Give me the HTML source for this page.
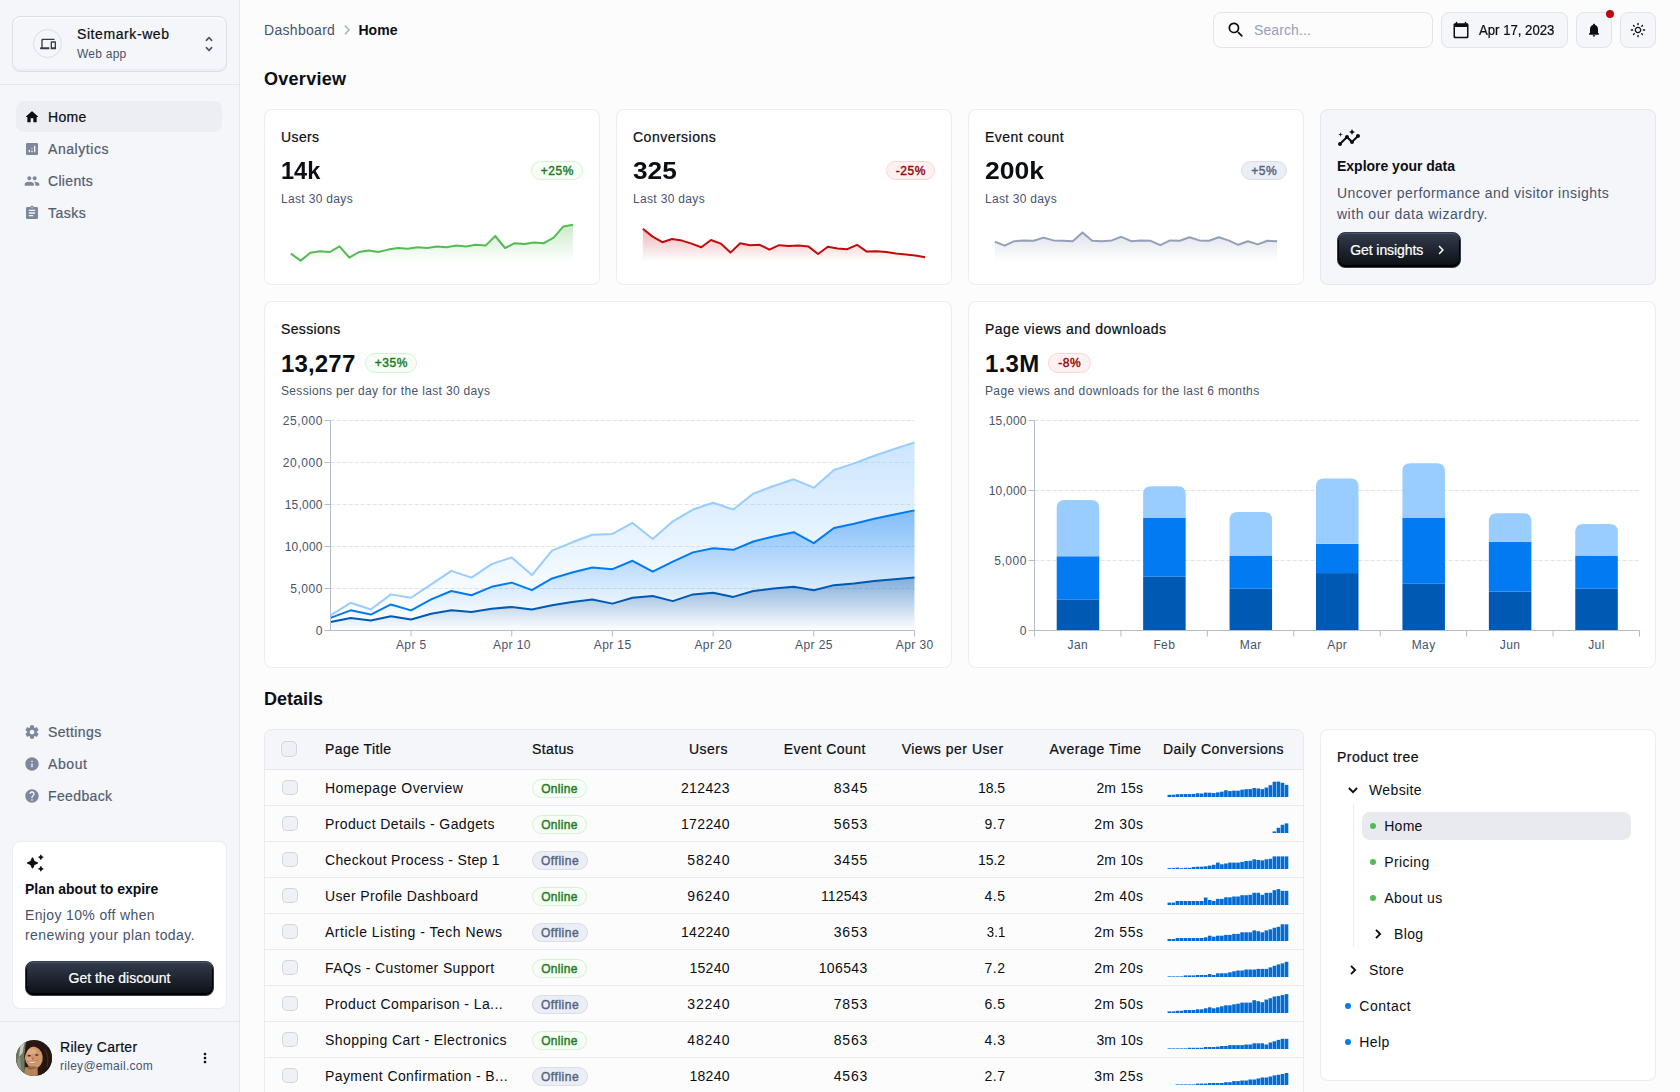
<!DOCTYPE html>
<html lang="en"><head><meta charset="utf-8"><title>Dashboard</title><style>
html,body{margin:0;padding:0;}
body{width:1680px;height:1092px;overflow:hidden;background:#FCFCFC;font-family:"Liberation Sans",sans-serif;position:relative;}
#app{position:absolute;left:0;top:0;width:1680px;height:1092px;overflow:hidden;}
.b{position:absolute;box-sizing:content-box;}
.ic{position:absolute;display:block;overflow:visible;}
.t{position:absolute;white-space:nowrap;display:block;}
</style></head>
<body><div id="app">
<!-- sidebar --><div class="b " style="left:0px;top:0px;width:239px;height:1092px;background:#F5F6FA;border-right:1px solid rgba(194,201,214,0.33);"></div><div class="b " style="left:12px;top:16px;width:213px;height:54px;border:1px solid #DADEE7;border-radius:8px;background:#F5F6FA;box-shadow:inset 0 1px 0 1px rgba(255,255,255,.6),inset 0 -1px 0 1px rgba(224,228,238,.5);"></div><div class="b " style="left:33px;top:29px;width:27px;height:27px;border:1px solid #DADEE7;border-radius:50%;background:#F5F6FA;"></div><svg class="ic" style="left:40px;top:36px;" width="16" height="16" viewBox="0 0 24 24" fill="#333C4D"><path d="M4 7c0-.55.45-1 1-1h16c.55 0 1-.45 1-1s-.45-1-1-1H4c-1.1 0-2 .9-2 2v11h-.5c-.83 0-1.5.67-1.5 1.5S.67 20 1.5 20H14v-3H4zm19 1h-6c-.55 0-1 .45-1 1v10c0 .55.45 1 1 1h6c.55 0 1-.45 1-1V9c0-.55-.45-1-1-1m-1 9h-4v-7h4z"/></svg><span class="t " style="top:27px;font-size:14px;line-height:14px;color:#0B0E14;letter-spacing:0.584px;-webkit-text-stroke:0.22px;left:77px;">Sitemark-web</span><span class="t " style="top:48px;font-size:12px;line-height:12px;color:#47536B;letter-spacing:0.241px;left:77px;">Web app</span><svg class="ic" style="left:199px;top:34px;" width="20" height="20" viewBox="0 0 24 24" fill="#47536B"><path d="M12 5.83 14.46 8.29c.39.39 1.02.39 1.41 0 .39-.39.39-1.02 0-1.41L12.7 3.7a.996.996 0 0 0-1.41 0L8.12 6.88c-.39.39-.39 1.02 0 1.41.39.39 1.02.39 1.41 0zm0 12.34-2.46-2.46a.996.996 0 0 0-1.41 0c-.39.39-.39 1.02 0 1.41l3.17 3.18c.39.39 1.02.39 1.41 0l3.17-3.17c.39-.39.39-1.02 0-1.41a.996.996 0 0 0-1.41 0z"/></svg><div class="b " style="left:0px;top:84px;width:239px;height:1px;background:rgba(194,201,214,0.33);"></div><div class="b " style="left:16px;top:101px;width:206px;height:31px;background:rgba(194,201,214,.17);border-radius:8px;"></div><svg class="ic" style="left:24px;top:109px;" width="16" height="16" viewBox="0 0 24 24" fill="#0B0E14"><path d="M10 19v-5h4v5c0 .55.45 1 1 1h3c.55 0 1-.45 1-1v-7h1.7c.46 0 .68-.57.33-.87L12.67 3.6c-.38-.34-.96-.34-1.34 0l-8.36 7.53c-.34.3-.13.87.33.87H5v7c0 .55.45 1 1 1h3c.55 0 1-.45 1-1"/></svg><span class="t " style="top:110px;font-size:14px;line-height:14px;color:#0B0E14;letter-spacing:0.335px;-webkit-text-stroke:0.22px;left:48px;">Home</span><svg class="ic" style="left:24px;top:141px;" width="16" height="16" viewBox="0 0 24 24" fill="#7D879D"><path d="M19 3H5c-1.1 0-2 .9-2 2v14c0 1.1.9 2 2 2h14c1.1 0 2-.9 2-2V5c0-1.1-.9-2-2-2M8 17c-.55 0-1-.45-1-1v-2c0-.55.45-1 1-1s1 .45 1 1v2c0 .55-.45 1-1 1m4 0c-.55 0-1-.45-1-1v-1c0-.55.45-1 1-1s1 .45 1 1v1c0 .55-.45 1-1 1m0-5c-.55 0-1-.45-1-1s.45-1 1-1 1 .45 1 1-.45 1-1 1m4 5c-.55 0-1-.45-1-1V8c0-.55.45-1 1-1s1 .45 1 1v8c0 .55-.45 1-1 1"/></svg><span class="t " style="top:142px;font-size:14px;line-height:14px;color:#545D70;letter-spacing:0.563px;-webkit-text-stroke:0.22px;left:48px;">Analytics</span><svg class="ic" style="left:24px;top:173px;" width="16" height="16" viewBox="0 0 24 24" fill="#7D879D"><path d="M16 11c1.66 0 2.99-1.34 2.99-3S17.66 5 16 5s-3 1.34-3 3 1.34 3 3 3m-8 0c1.66 0 2.99-1.34 2.99-3S9.66 5 8 5 5 6.340 5 8s1.34 3 3 3m0 2c-2.33 0-7 1.17-7 3.5V18c0 .55.45 1 1 1h12c.55 0 1-.45 1-1v-1.5c0-2.33-4.67-3.5-7-3.5m8 0c-.29 0-.62.02-.97.05.02.01.03.03.04.04 1.14.83 1.93 1.94 1.93 3.41V18c0 .35-.07.69-.18 1H22c.55 0 1-.45 1-1v-1.5c0-2.33-4.67-3.5-7-3.5"/></svg><span class="t " style="top:174px;font-size:14px;line-height:14px;color:#545D70;letter-spacing:0.315px;-webkit-text-stroke:0.22px;left:48px;">Clients</span><svg class="ic" style="left:24px;top:205px;" width="16" height="16" viewBox="0 0 24 24" fill="#7D879D"><path d="M19 3h-4.18C14.4 1.84 13.3 1 12 1s-2.4.84-2.82 2H5c-1.1 0-2 .9-2 2v14c0 1.1.9 2 2 2h14c1.1 0 2-.9 2-2V5c0-1.1-.9-2-2-2m-7 0c.55 0 1 .45 1 1s-.45 1-1 1-1-.45-1-1 .45-1 1-1m1 14H8c-.55 0-1-.45-1-1s.45-1 1-1h5c.55 0 1 .45 1 1s-.45 1-1 1m3-4H8c-.55 0-1-.45-1-1s.45-1 1-1h8c.55 0 1 .45 1 1s-.45 1-1 1m0-4H8c-.55 0-1-.45-1-1s.45-1 1-1h8c.55 0 1 .45 1 1s-.45 1-1 1"/></svg><span class="t " style="top:206px;font-size:14px;line-height:14px;color:#545D70;letter-spacing:0.481px;-webkit-text-stroke:0.22px;left:48px;">Tasks</span><svg class="ic" style="left:24px;top:724px;" width="16" height="16" viewBox="0 0 24 24" fill="#7D879D"><path d="M19.5 12c0-.23-.01-.45-.03-.68l1.86-1.41c.4-.3.51-.86.26-1.3l-1.87-3.23c-.25-.44-.79-.62-1.25-.42l-2.15.91c-.37-.26-.76-.49-1.17-.68l-.29-2.31c-.06-.5-.49-.88-.99-.88h-3.73c-.51 0-.94.38-1 .88l-.29 2.31c-.41.19-.8.42-1.17.68l-2.15-.91c-.46-.2-1-.02-1.25.42L2.41 8.620c-.25.44-.14.99.26 1.3l1.86 1.41c-.02.22-.03.44-.03.67s.01.45.03.68l-1.86 1.41c-.4.3-.51.86-.26 1.3l1.87 3.23c.25.44.79.62 1.25.42l2.15-.91c.37.26.76.49 1.17.68l.29 2.31c.06.5.49.88.99.88h3.73c.5 0 .93-.38.99-.88l.29-2.31c.41-.19.8-.42 1.17-.68l2.15.91c.46.2 1 .02 1.25-.42l1.87-3.23c.25-.44.14-.99-.26-1.3l-1.86-1.41c.03-.23.04-.45.04-.68m-7.46 3.5c-1.93 0-3.5-1.57-3.5-3.5s1.57-3.5 3.5-3.5 3.5 1.57 3.5 3.5-1.57 3.5-3.5 3.5"/></svg><span class="t " style="top:725px;font-size:14px;line-height:14px;color:#545D70;letter-spacing:0.363px;-webkit-text-stroke:0.22px;left:48px;">Settings</span><svg class="ic" style="left:24px;top:756px;" width="16" height="16" viewBox="0 0 24 24" fill="#7D879D"><path d="M12 2C6.48 2 2 6.48 2 12s4.48 10 10 10 10-4.48 10-10S17.52 2 12 2m0 15c-.55 0-1-.45-1-1v-4c0-.55.45-1 1-1s1 .45 1 1v4c0 .55-.45 1-1 1m1-8h-2V7h2z"/></svg><span class="t " style="top:757px;font-size:14px;line-height:14px;color:#545D70;letter-spacing:0.581px;-webkit-text-stroke:0.22px;left:48px;">About</span><svg class="ic" style="left:24px;top:788px;" width="16" height="16" viewBox="0 0 24 24" fill="#7D879D"><path d="M12 2C6.48 2 2 6.48 2 12s4.48 10 10 10 10-4.48 10-10S17.52 2 12 2m1 17h-2v-2h2zm2.070-7.75-.9.92c-.5.51-.86.97-1.04 1.69-.08.32-.13.68-.13 1.14h-2v-.5c0-.46.08-.9.22-1.31.2-.58.53-1.1.95-1.52l1.24-1.26c.46-.44.68-1.1.55-1.8-.13-.72-.69-1.33-1.39-1.53-1.11-.31-2.14.32-2.47 1.27-.12.37-.43.65-.82.65h-.3C8.400 9 8 8.440 8.160 7.880c.43-1.47 1.68-2.59 3.23-2.83 1.52-.24 2.97.55 3.87 1.8 1.180 1.630.83 3.380-.19 4.400"/></svg><span class="t " style="top:789px;font-size:14px;line-height:14px;color:#545D70;letter-spacing:0.377px;-webkit-text-stroke:0.22px;left:48px;">Feedback</span><div class="b " style="left:12px;top:841px;width:213px;height:166px;border:1px solid rgba(194,201,214,0.33);border-radius:8px;background:#fff;"></div><svg class="ic" style="left:25px;top:853px;" width="20" height="20" viewBox="0 0 24 24" fill="#0B0E14"><path d="m19.46 8 .79-1.75L22 5.46c.39-.18.39-.73 0-.91l-1.75-.79L19.46 2c-.18-.39-.73-.39-.91 0l-.79 1.75-1.76.79c-.39.18-.39.73 0 .91l1.75.79.79 1.76c.18.39.74.39.92 0M11.5 9.5 9.91 6c-.35-.78-1.47-.78-1.82 0L6.5 9.5 3 11.09c-.78.36-.78 1.47 0 1.82l3.5 1.59L8.09 18c.36.78 1.47.78 1.82 0l1.59-3.5 3.5-1.59c.78-.36.78-1.47 0-1.82zm7.04 6.5-.79 1.75-1.75.79c-.39.18-.39.73 0 .91l1.75.79.79 1.76c.18.39.73.39.91 0l.79-1.75 1.76-.79c.39-.18.39-.73 0-.91l-1.75-.79-.79-1.76c-.18-.39-.74-.39-.92 0"/></svg><span class="t " style="top:882px;font-size:14px;line-height:14px;color:#0B0E14;letter-spacing:-0.026px;font-weight:700;left:25px;">Plan about to expire</span><span class="t " style="top:908px;font-size:14px;line-height:14px;color:#47536B;letter-spacing:0.361px;left:25px;">Enjoy 10% off when</span><span class="t " style="top:928px;font-size:14px;line-height:14px;color:#47536B;letter-spacing:0.428px;left:25px;">renewing your plan today.</span><div class="b " style="left:25px;top:961px;width:187px;height:33px;border:1px solid #333C4D;border-radius:8px;background:linear-gradient(to bottom,#333C4D,#0B0E14);box-shadow:inset 0 1px 0 #47536B,inset 0 -1px 0 1px #000;"></div><span class="t " style="top:971px;font-size:14px;line-height:14px;color:#fff;letter-spacing:0.003px;-webkit-text-stroke:0.22px;left:-380.5px;width:1000px;text-align:center;text-indent:0.003px;">Get the discount</span><div class="b " style="left:0px;top:1021px;width:239px;height:1px;background:rgba(194,201,214,0.33);"></div><svg class="ic" style="left:16px;top:1039.5px" width="36" height="36" viewBox="0 0 36 36"><defs><clipPath id="avc"><circle cx="18" cy="18" r="18"/></clipPath><filter id="avb" x="-10%" y="-10%" width="120%" height="120%"><feGaussianBlur stdDeviation="0.55"/></filter></defs><g clip-path="url(#avc)"><rect width="36" height="36" fill="#281712"/><g filter="url(#avb)"><path d="M-2 -2 H11 Q7 14 9.500 38 H-2z" fill="#6f755e"/><path d="M4.500 4 L9 0 L6.500 13 L3 17z" fill="#c3ccbd"/><path d="M1 20 L4 16 L6 34 L2 30z" fill="#8b917c"/><ellipse cx="17.800" cy="17.200" rx="8.900" ry="11.200" transform="rotate(-6 17.800 17.200)" fill="#cf976c"/><ellipse cx="15.500" cy="11.500" rx="5" ry="3" fill="#dcab84"/><ellipse cx="13" cy="19.500" rx="2.600" ry="2.200" fill="#dba683"/><path d="M9.500 26.500 Q15 31.500 21.500 27 L22 38 L7.500 38z" fill="#b48555"/><ellipse cx="16" cy="27.600" rx="5" ry="1.300" fill="#9d6b45"/><path d="M8.200 19 Q7.500 7 17 4.800 Q27 4 28 17 Q24.500 7.200 17.500 6.600 Q11 7.200 8.200 19z" fill="#2a1813"/><path d="M24 9 Q30 14 28.500 26 L23 38 L38 38 L38 6z" fill="#22120e"/><path d="M28.500 9 Q33.500 16 31 27" stroke="#4a261c" stroke-width="1.400" fill="none"/><ellipse cx="13.200" cy="15.700" rx="1.700" ry=".75" fill="#3b2218"/><ellipse cx="20.800" cy="14.900" rx="1.700" ry=".75" fill="#3b2218"/><ellipse cx="16.800" cy="18.600" rx=".9" ry="1.700" fill="#b87c54"/><path d="M11.300 21 Q16 26.500 21.800 20.300 Q16.500 22.600 11.300 21z" fill="#f5ebe3" stroke="#9a5843" stroke-width=".5"/></g></g></svg><span class="t " style="top:1040px;font-size:14px;line-height:14px;color:#0B0E14;letter-spacing:0.291px;-webkit-text-stroke:0.22px;left:60px;">Riley Carter</span><span class="t " style="top:1060px;font-size:12px;line-height:12px;color:#47536B;letter-spacing:0.275px;left:60px;">riley@email.com</span><svg class="ic" style="left:197px;top:1049.5px;" width="16" height="16" viewBox="0 0 24 24" fill="#0B0E14"><path d="M12 8c1.1 0 2-.9 2-2s-.9-2-2-2-2 .9-2 2 .9 2 2 2m0 2c-1.1 0-2 .9-2 2s.9 2 2 2 2-.9 2-2-.9-2-2-2m0 6c-1.1 0-2 .9-2 2s.9 2 2 2 2-.9 2-2-.9-2-2-2"/></svg><!-- header --><span class="t " style="top:23px;font-size:14px;line-height:14px;color:#47536B;letter-spacing:0.3px;left:264px;">Dashboard</span><svg class="ic" style="left:337px;top:20px;" width="20" height="20" viewBox="0 0 24 24" fill="#B0B8C8"><path d="M9.31 6.71c-.39.39-.39 1.02 0 1.41L13.19 12l-3.88 3.88c-.39.39-.39 1.02 0 1.41.39.39 1.02.39 1.41 0l4.59-4.59c.39-.39.39-1.02 0-1.41L10.72 6.7c-.38-.38-1.02-.38-1.41.01"/></svg><span class="t " style="top:23px;font-size:14px;line-height:14px;color:#0B0E14;letter-spacing:0.123px;font-weight:700;left:358.4px;">Home</span><div class="b " style="left:1213px;top:12px;width:218px;height:34px;border:1px solid #E0E4EC;border-radius:8px;background:#FCFCFC;"></div><svg class="ic" style="left:1225.5px;top:20px;" width="20" height="20" viewBox="0 0 24 24" fill="#0B0E14"><path d="M15.5 14h-.79l-.28-.27c1.2-1.4 1.82-3.31 1.48-5.34-.47-2.78-2.79-5-5.59-5.34-4.23-.52-7.79 3.04-7.27 7.27.34 2.8 2.56 5.12 5.34 5.59 2.03.34 3.94-.28 5.34-1.48l.27.28v.79l4.25 4.25c.41.41 1.08.41 1.49 0 .41-.41.41-1.08 0-1.49zm-6 0C7.01 14 5 11.99 5 9.5S7.01 5 9.5 5 14 7.01 14 9.5 11.99 14 9.5 14"/></svg><span class="t " style="top:23px;font-size:14px;line-height:14px;color:#94A0B8;letter-spacing:0.108px;left:1254px;">Search...</span><div class="b " style="left:1441px;top:12px;width:125px;height:34px;border:1px solid #E0E4EC;border-radius:8px;background:#F5F6FA;"></div><svg class="ic" style="left:1452px;top:21px;" width="18" height="18" viewBox="0 0 24 24" fill="#0B0E14"><path d="M20 3h-1V2c0-.55-.45-1-1-1s-1 .45-1 1v1H7V2c0-.55-.45-1-1-1s-1 .45-1 1v1H4c-1.1 0-2 .9-2 2v16c0 1.1.9 2 2 2h16c1.1 0 2-.9 2-2V5c0-1.1-.9-2-2-2m-1 18H5c-.55 0-1-.45-1-1V8h16v12c0 .55-.45 1-1 1"/></svg><span class="t " style="top:23px;font-size:14px;line-height:14px;color:#0B0E14;letter-spacing:0px;-webkit-text-stroke:0.22px;left:1478.9px;transform:scaleX(0.9405);transform-origin:left center;">Apr 17, 2023</span><div class="b " style="left:1576px;top:12px;width:34px;height:34px;border:1px solid #E0E4EC;border-radius:8px;background:#F5F6FA;"></div><svg class="ic" style="left:1586px;top:22px;" width="16" height="16" viewBox="0 0 24 24" fill="#0B0E14"><path d="M12 22c1.1 0 2-.9 2-2h-4c0 1.1.89 2 2 2m6-6v-5c0-3.07-1.64-5.64-4.5-6.32V4c0-.83-.67-1.5-1.5-1.5s-1.5.67-1.5 1.5v.68C7.63 5.36 6 7.92 6 11v5l-1.29 1.29c-.63.63-.19 1.71.7 1.71h13.17c.89 0 1.34-1.08.71-1.71z"/></svg><div class="b " style="left:1606px;top:10px;width:8px;height:8px;background:#C20A0A;border-radius:50%;"></div><div class="b " style="left:1620px;top:12px;width:34px;height:34px;border:1px solid #E0E4EC;border-radius:8px;background:#F5F6FA;"></div><svg class="ic" style="left:1630px;top:22px;" width="16" height="16" viewBox="0 0 24 24" fill="#0B0E14"><path d="M12 9c1.65 0 3 1.35 3 3s-1.35 3-3 3-3-1.35-3-3 1.35-3 3-3m0-2c-2.76 0-5 2.24-5 5s2.24 5 5 5 5-2.24 5-5-2.24-5-5-5M2 13h2c.55 0 1-.45 1-1s-.45-1-1-1H2c-.55 0-1 .45-1 1s.45 1 1 1m18 0h2c.55 0 1-.45 1-1s-.45-1-1-1h-2c-.55 0-1 .45-1 1s.45 1 1 1M11 2v2c0 .55.45 1 1 1s1-.45 1-1V2c0-.55-.45-1-1-1s-1 .45-1 1m0 18v2c0 .55.45 1 1 1s1-.45 1-1v-2c0-.55-.45-1-1-1s-1 .45-1 1M5.99 4.58c-.39-.39-1.03-.39-1.41 0-.39.39-.39 1.03 0 1.41l1.06 1.06c.39.39 1.03.39 1.41 0s.39-1.03 0-1.410zm12.37 12.37c-.39-.39-1.03-.39-1.41 0-.39.39-.39 1.03 0 1.41l1.06 1.06c.39.39 1.03.39 1.41 0 .39-.39.39-1.03 0-1.41zm1.06-10.96c.39-.39.39-1.03 0-1.41-.39-.39-1.03-.39-1.41 0l-1.06 1.06c-.39.39-.39 1.03 0 1.41s1.03.39 1.41 0zM7.05 18.36c.39-.39.39-1.03 0-1.41-.39-.39-1.03-.39-1.41 0l-1.06 1.06c-.39.39-.39 1.03 0 1.41s1.03.39 1.41 0z"/></svg><span class="t " style="top:70px;font-size:18px;line-height:18px;color:#0B0E14;letter-spacing:0.28px;font-weight:700;left:264px;">Overview</span><!-- stat cards --><div class="b " style="left:264px;top:109px;width:334px;height:174px;border:1px solid rgba(194,201,214,0.33);border-radius:8px;background:#fff;"></div><span class="t " style="top:130px;font-size:14px;line-height:14px;color:#0B0E14;letter-spacing:0.388px;-webkit-text-stroke:0.22px;left:281px;">Users</span><span class="t " style="top:159px;font-size:24px;line-height:24px;color:#0B0E14;letter-spacing:0px;font-weight:700;left:281px;transform:scaleX(0.9813);transform-origin:left center;">14k</span><span class="t " style="top:193px;font-size:12px;line-height:12px;color:#47536B;letter-spacing:0.329px;left:281px;">Last 30 days</span><div class="b " style="left:531px;top:160.7px;width:50px;height:17.5px;border:1px solid #D2F5D2;border-radius:999px;background:#F6FEF6;"></div><span class="t " style="top:165px;font-size:12px;line-height:12px;color:#1F7A1F;letter-spacing:0.55px;-webkit-text-stroke:0.42px;left:57.0px;width:1000px;text-align:center;text-indent:0.55px;">+25%</span><svg class="ic" style="left:264px;top:109px" width="336" height="176" viewBox="0 0 336 176"><defs><linearGradient id="gU" x1="0" y1="0" x2="0" y2="1"><stop offset="0" stop-color="#52BC52" stop-opacity=".3"/><stop offset="1" stop-color="#52BC52" stop-opacity="0"/></linearGradient></defs><path d="M26.87,144.60 L36.60,151.64 L46.33,143.80 L56.07,142.20 L65.80,143.00 L75.53,137.40 L85.27,148.60 L95.00,143.00 L104.73,141.40 L114.47,143.00 L124.20,140.60 L133.93,139.00 L143.67,139.80 L153.40,138.20 L163.13,139.00 L172.87,137.40 L182.60,138.20 L192.33,136.60 L202.07,137.40 L211.80,135.80 L221.53,136.60 L231.27,127.00 L241.00,139.00 L250.73,134.20 L260.47,135.00 L270.20,133.40 L279.93,134.20 L289.67,128.60 L299.40,117.40 L309.13,115.80 L309.13,152.60000000000002 L26.87,152.60000000000002 Z" fill="url(#gU)"/><path d="M26.87,144.60 L36.60,151.64 L46.33,143.80 L56.07,142.20 L65.80,143.00 L75.53,137.40 L85.27,148.60 L95.00,143.00 L104.73,141.40 L114.47,143.00 L124.20,140.60 L133.93,139.00 L143.67,139.80 L153.40,138.20 L163.13,139.00 L172.87,137.40 L182.60,138.20 L192.33,136.60 L202.07,137.40 L211.80,135.80 L221.53,136.60 L231.27,127.00 L241.00,139.00 L250.73,134.20 L260.47,135.00 L270.20,133.40 L279.93,134.20 L289.67,128.60 L299.40,117.40 L309.13,115.80" fill="none" stroke="#52BC52" stroke-width="2" stroke-linejoin="round"/></svg><div class="b " style="left:616px;top:109px;width:334px;height:174px;border:1px solid rgba(194,201,214,0.33);border-radius:8px;background:#fff;"></div><span class="t " style="top:130px;font-size:14px;line-height:14px;color:#0B0E14;letter-spacing:0.497px;-webkit-text-stroke:0.22px;left:633px;">Conversions</span><span class="t " style="top:159px;font-size:24px;line-height:24px;color:#0B0E14;letter-spacing:0px;font-weight:700;left:633px;transform:scaleX(1.0937);transform-origin:left center;">325</span><span class="t " style="top:193px;font-size:12px;line-height:12px;color:#47536B;letter-spacing:0.329px;left:633px;">Last 30 days</span><div class="b " style="left:886px;top:160.7px;width:47px;height:17.5px;border:1px solid #FBD5D5;border-radius:999px;background:#FFF1F1;"></div><span class="t " style="top:165px;font-size:12px;line-height:12px;color:#910808;letter-spacing:0.55px;-webkit-text-stroke:0.42px;left:410.5px;width:1000px;text-align:center;text-indent:0.55px;">-25%</span><svg class="ic" style="left:616px;top:109px" width="336" height="176" viewBox="0 0 336 176"><defs><linearGradient id="gC" x1="0" y1="0" x2="0" y2="1"><stop offset="0" stop-color="#C20A0A" stop-opacity=".3"/><stop offset="1" stop-color="#C20A0A" stop-opacity="0"/></linearGradient></defs><path d="M26.87,119.80 L36.60,127.60 L46.33,133.20 L56.07,130.00 L65.80,131.60 L75.53,134.60 L85.27,138.20 L95.00,131.00 L104.73,134.60 L114.47,143.60 L124.20,134.20 L133.93,136.20 L143.67,135.80 L153.40,140.60 L163.13,136.20 L172.87,137.00 L182.60,136.60 L192.33,137.40 L202.07,145.00 L211.80,137.80 L221.53,139.40 L231.27,140.20 L241.00,135.80 L250.73,142.60 L260.47,142.20 L270.20,143.00 L279.93,144.60 L289.67,145.40 L299.40,146.60 L309.13,148.20 L309.13,152.60000000000002 L26.87,152.60000000000002 Z" fill="url(#gC)"/><path d="M26.87,119.80 L36.60,127.60 L46.33,133.20 L56.07,130.00 L65.80,131.60 L75.53,134.60 L85.27,138.20 L95.00,131.00 L104.73,134.60 L114.47,143.60 L124.20,134.20 L133.93,136.20 L143.67,135.80 L153.40,140.60 L163.13,136.20 L172.87,137.00 L182.60,136.60 L192.33,137.40 L202.07,145.00 L211.80,137.80 L221.53,139.40 L231.27,140.20 L241.00,135.80 L250.73,142.60 L260.47,142.20 L270.20,143.00 L279.93,144.60 L289.67,145.40 L299.40,146.60 L309.13,148.20" fill="none" stroke="#C20A0A" stroke-width="2" stroke-linejoin="round"/></svg><div class="b " style="left:968px;top:109px;width:334px;height:174px;border:1px solid rgba(194,201,214,0.33);border-radius:8px;background:#fff;"></div><span class="t " style="top:130px;font-size:14px;line-height:14px;color:#0B0E14;letter-spacing:0.46px;-webkit-text-stroke:0.22px;left:985px;">Event count</span><span class="t " style="top:159px;font-size:24px;line-height:24px;color:#0B0E14;letter-spacing:0px;font-weight:700;left:985px;transform:scaleX(1.1051);transform-origin:left center;">200k</span><span class="t " style="top:193px;font-size:12px;line-height:12px;color:#47536B;letter-spacing:0.329px;left:985px;">Last 30 days</span><div class="b " style="left:1241px;top:160.7px;width:44px;height:17.5px;border:1px solid #DADEE7;border-radius:999px;background:#EBEEF4;"></div><span class="t " style="top:165px;font-size:12px;line-height:12px;color:#566481;letter-spacing:0.55px;-webkit-text-stroke:0.42px;left:764.0px;width:1000px;text-align:center;text-indent:0.55px;">+5%</span><svg class="ic" style="left:968px;top:109px" width="336" height="176" viewBox="0 0 336 176"><defs><linearGradient id="gE" x1="0" y1="0" x2="0" y2="1"><stop offset="0" stop-color="#94A0B8" stop-opacity=".3"/><stop offset="1" stop-color="#94A0B8" stop-opacity="0"/></linearGradient></defs><path d="M26.87,132.60 L36.60,136.60 L46.33,132.20 L56.07,131.40 L65.80,131.80 L75.53,128.60 L85.27,131.40 L95.00,131.80 L104.73,132.20 L114.47,123.40 L124.20,131.80 L133.93,132.20 L143.67,131.40 L153.40,127.80 L163.13,132.20 L172.87,131.40 L182.60,131.80 L192.33,136.20 L202.07,131.40 L211.80,131.80 L221.53,128.20 L231.27,131.40 L241.00,131.80 L250.73,128.20 L260.47,131.40 L270.20,135.80 L279.93,132.20 L289.67,135.40 L299.40,131.80 L309.13,132.20 L309.13,152.60000000000002 L26.87,152.60000000000002 Z" fill="url(#gE)"/><path d="M26.87,132.60 L36.60,136.60 L46.33,132.20 L56.07,131.40 L65.80,131.80 L75.53,128.60 L85.27,131.40 L95.00,131.80 L104.73,132.20 L114.47,123.40 L124.20,131.80 L133.93,132.20 L143.67,131.40 L153.40,127.80 L163.13,132.20 L172.87,131.40 L182.60,131.80 L192.33,136.20 L202.07,131.40 L211.80,131.80 L221.53,128.20 L231.27,131.40 L241.00,131.80 L250.73,128.20 L260.47,131.40 L270.20,135.80 L279.93,132.20 L289.67,135.40 L299.40,131.80 L309.13,132.20" fill="none" stroke="#94A0B8" stroke-width="2" stroke-linejoin="round"/></svg><div class="b " style="left:1320px;top:109px;width:334px;height:174px;border:1px solid rgba(194,201,214,0.33);border-radius:8px;background:#F5F6FA;"></div><svg class="ic" style="left:1337px;top:126px;" width="24" height="24" viewBox="0 0 24 24" fill="#0B0E14"><path d="M21 8c-1.45 0-2.26 1.44-1.93 2.51l-3.55 3.56c-.3-.09-.74-.09-1.04 0l-2.55-2.55C12.27 10.45 11.46 9 10 9c-1.45 0-2.27 1.44-1.93 2.52l-4.56 4.55C2.44 15.74 1 16.55 1 18c0 1.1.9 2 2 2 1.45 0 2.26-1.44 1.93-2.51l4.55-4.56c.3.09.74.09 1.04 0l2.55 2.55C12.73 16.55 13.54 18 15 18c1.45 0 2.27-1.44 1.93-2.52l3.56-3.55c1.07.33 2.51-.48 2.51-1.93 0-1.1-.9-2-2-2"/><path d="m15 9 .94-2.07L18 6l-2.06-.93L15 3l-.92 2.07L12 6l2.08.93zM3.5 11 4 9l2-.5L4 8l-.5-2L3 8l-2 .5L3 9z"/></svg><span class="t " style="top:159px;font-size:14px;line-height:14px;color:#0B0E14;letter-spacing:-0.016px;font-weight:700;left:1337px;">Explore your data</span><span class="t " style="top:186px;font-size:14px;line-height:14px;color:#47536B;letter-spacing:0.466px;left:1337px;">Uncover performance and visitor insights</span><span class="t " style="top:207px;font-size:14px;line-height:14px;color:#47536B;letter-spacing:0.512px;left:1337px;">with our data wizardry.</span><div class="b " style="left:1337px;top:232px;width:122px;height:34px;border:1px solid #333C4D;border-radius:8px;background:linear-gradient(to bottom,#333C4D,#0B0E14);box-shadow:inset 0 1px 0 #47536B,inset 0 -1px 0 1px #000;"></div><span class="t " style="top:243px;font-size:14px;line-height:14px;color:#fff;letter-spacing:-0.095px;-webkit-text-stroke:0.22px;left:1350.3px;">Get insights</span><svg class="ic" style="left:1432px;top:241px;" width="18" height="18" viewBox="0 0 24 24" fill="#fff"><path d="M9.31 6.71c-.39.39-.39 1.02 0 1.41L13.19 12l-3.88 3.88c-.39.39-.39 1.02 0 1.41.39.39 1.02.39 1.41 0l4.59-4.59c.39-.39.39-1.02 0-1.41L10.72 6.7c-.38-.38-1.02-.38-1.41.01"/></svg><!-- sessions --><div class="b " style="left:264px;top:301px;width:686px;height:365px;border:1px solid rgba(194,201,214,0.33);border-radius:8px;background:#fff;"></div><span class="t " style="top:322px;font-size:14px;line-height:14px;color:#0B0E14;letter-spacing:0.336px;-webkit-text-stroke:0.22px;left:281px;">Sessions</span><span class="t " style="top:352px;font-size:24px;line-height:24px;color:#0B0E14;letter-spacing:0.166px;font-weight:700;left:281px;">13,277</span><div class="b " style="left:365px;top:353px;width:50px;height:17.5px;border:1px solid #D2F5D2;border-radius:999px;background:#F6FEF6;"></div><span class="t " style="top:357px;font-size:12px;line-height:12px;color:#1F7A1F;letter-spacing:0.55px;-webkit-text-stroke:0.42px;left:-109.0px;width:1000px;text-align:center;text-indent:0.55px;">+35%</span><span class="t " style="top:385px;font-size:12px;line-height:12px;color:#47536B;letter-spacing:0.338px;left:281px;">Sessions per day for the last 30 days</span><svg class="ic" style="left:264px;top:301px" width="688" height="367" viewBox="0 0 688 367"><defs><linearGradient id="so" x1="0" y1="0" x2="0" y2="1"><stop offset="0" stop-color="#0059B3" stop-opacity=".5"/><stop offset="1" stop-color="#0059B3" stop-opacity="0"/></linearGradient><linearGradient id="sr" x1="0" y1="0" x2="0" y2="1"><stop offset="0" stop-color="#027AF2" stop-opacity=".5"/><stop offset="1" stop-color="#027AF2" stop-opacity="0"/></linearGradient><linearGradient id="sd" x1="0" y1="0" x2="0" y2="1"><stop offset="0" stop-color="#99CCFF" stop-opacity=".5"/><stop offset="1" stop-color="#99CCFF" stop-opacity="0"/></linearGradient></defs><line x1="66.5" x2="650.5" y1="287.5" y2="287.5" stroke="#C2C9D6" stroke-opacity=".5" stroke-dasharray="4 2" stroke-width="1"/><line x1="66.5" x2="650.5" y1="245.5" y2="245.5" stroke="#C2C9D6" stroke-opacity=".5" stroke-dasharray="4 2" stroke-width="1"/><line x1="66.5" x2="650.5" y1="203.5" y2="203.5" stroke="#C2C9D6" stroke-opacity=".5" stroke-dasharray="4 2" stroke-width="1"/><line x1="66.5" x2="650.5" y1="161.5" y2="161.5" stroke="#C2C9D6" stroke-opacity=".5" stroke-dasharray="4 2" stroke-width="1"/><line x1="66.5" x2="650.5" y1="119.5" y2="119.5" stroke="#C2C9D6" stroke-opacity=".5" stroke-dasharray="4 2" stroke-width="1"/><path d="M66.50,321.10 L86.64,316.90 L106.78,319.42 L126.91,315.22 L147.05,318.58 L167.19,312.70 L187.33,309.34 L207.47,311.02 L227.60,307.66 L247.74,305.98 L267.88,308.50 L288.02,304.30 L308.16,300.94 L328.29,298.42 L348.43,302.62 L368.57,296.74 L388.71,295.06 L408.84,300.10 L428.98,293.38 L449.12,291.70 L469.26,295.90 L489.40,290.02 L509.53,287.50 L529.67,285.82 L549.81,289.18 L569.95,284.14 L590.09,282.46 L610.22,279.94 L630.36,278.26 L650.50,276.58 L650.50,329.50 L630.36,329.50 L610.22,329.50 L590.09,329.50 L569.95,329.50 L549.81,329.50 L529.67,329.50 L509.53,329.50 L489.40,329.50 L469.26,329.50 L449.12,329.50 L428.98,329.50 L408.84,329.50 L388.71,329.50 L368.57,329.50 L348.43,329.50 L328.29,329.50 L308.16,329.50 L288.02,329.50 L267.88,329.50 L247.74,329.50 L227.60,329.50 L207.47,329.50 L187.33,329.50 L167.19,329.50 L147.05,329.50 L126.91,329.50 L106.78,329.50 L86.64,329.50 L66.50,329.50 Z" fill="url(#so)"/><path d="M66.50,316.90 L86.64,309.34 L106.78,313.54 L126.91,303.46 L147.05,309.34 L167.19,298.42 L187.33,290.02 L207.47,294.22 L227.60,285.82 L247.74,281.62 L267.88,289.18 L288.02,277.42 L308.16,271.54 L328.29,266.50 L348.43,268.18 L368.57,259.78 L388.71,270.70 L408.84,260.62 L428.98,251.38 L449.12,247.18 L469.26,248.86 L489.40,240.46 L509.53,235.42 L529.67,231.22 L549.81,242.14 L569.95,227.02 L590.09,222.82 L610.22,217.78 L630.36,213.58 L650.50,209.38 L650.50,276.58 L630.36,278.26 L610.22,279.94 L590.09,282.46 L569.95,284.14 L549.81,289.18 L529.67,285.82 L509.53,287.50 L489.40,290.02 L469.26,295.90 L449.12,291.70 L428.98,293.38 L408.84,300.10 L388.71,295.06 L368.57,296.74 L348.43,302.62 L328.29,298.42 L308.16,300.94 L288.02,304.30 L267.88,308.50 L247.74,305.98 L227.60,307.66 L207.47,311.02 L187.33,309.34 L167.19,312.70 L147.05,318.58 L126.91,315.22 L106.78,319.42 L86.64,316.90 L66.50,321.10 Z" fill="url(#sr)"/><path d="M66.50,314.38 L86.64,301.78 L106.78,308.50 L126.91,293.38 L147.05,296.74 L167.19,283.30 L187.33,269.86 L207.47,276.58 L227.60,263.14 L247.74,256.42 L267.88,274.06 L288.02,249.70 L308.16,241.30 L328.29,233.74 L348.43,232.90 L368.57,221.98 L388.71,237.94 L408.84,220.30 L428.98,208.54 L449.12,201.82 L469.26,208.54 L489.40,192.58 L509.53,185.02 L529.67,178.30 L549.81,186.70 L569.95,169.06 L590.09,162.34 L610.22,154.78 L630.36,148.06 L650.50,141.34 L650.50,209.38 L630.36,213.58 L610.22,217.78 L590.09,222.82 L569.95,227.02 L549.81,242.14 L529.67,231.22 L509.53,235.42 L489.40,240.46 L469.26,248.86 L449.12,247.18 L428.98,251.38 L408.84,260.62 L388.71,270.70 L368.57,259.78 L348.43,268.18 L328.29,266.50 L308.16,271.54 L288.02,277.42 L267.88,289.18 L247.74,281.62 L227.60,285.82 L207.47,294.22 L187.33,290.02 L167.19,298.42 L147.05,309.34 L126.91,303.46 L106.78,313.54 L86.64,309.34 L66.50,316.90 Z" fill="url(#sd)"/><path d="M66.50,321.10 L86.64,316.90 L106.78,319.42 L126.91,315.22 L147.05,318.58 L167.19,312.70 L187.33,309.34 L207.47,311.02 L227.60,307.66 L247.74,305.98 L267.88,308.50 L288.02,304.30 L308.16,300.94 L328.29,298.42 L348.43,302.62 L368.57,296.74 L388.71,295.06 L408.84,300.10 L428.98,293.38 L449.12,291.70 L469.26,295.90 L489.40,290.02 L509.53,287.50 L529.67,285.82 L549.81,289.18 L569.95,284.14 L590.09,282.46 L610.22,279.94 L630.36,278.26 L650.50,276.58" fill="none" stroke="#0059B3" stroke-width="2" stroke-linejoin="round"/><path d="M66.50,316.90 L86.64,309.34 L106.78,313.54 L126.91,303.46 L147.05,309.34 L167.19,298.42 L187.33,290.02 L207.47,294.22 L227.60,285.82 L247.74,281.62 L267.88,289.18 L288.02,277.42 L308.16,271.54 L328.29,266.50 L348.43,268.18 L368.57,259.78 L388.71,270.70 L408.84,260.62 L428.98,251.38 L449.12,247.18 L469.26,248.86 L489.40,240.46 L509.53,235.42 L529.67,231.22 L549.81,242.14 L569.95,227.02 L590.09,222.82 L610.22,217.78 L630.36,213.58 L650.50,209.38" fill="none" stroke="#027AF2" stroke-width="2" stroke-linejoin="round"/><path d="M66.50,314.38 L86.64,301.78 L106.78,308.50 L126.91,293.38 L147.05,296.74 L167.19,283.30 L187.33,269.86 L207.47,276.58 L227.60,263.14 L247.74,256.42 L267.88,274.06 L288.02,249.70 L308.16,241.30 L328.29,233.74 L348.43,232.90 L368.57,221.98 L388.71,237.94 L408.84,220.30 L428.98,208.54 L449.12,201.82 L469.26,208.54 L489.40,192.58 L509.53,185.02 L529.67,178.30 L549.81,186.70 L569.95,169.06 L590.09,162.34 L610.22,154.78 L630.36,148.06 L650.50,141.34" fill="none" stroke="#99CCFF" stroke-width="2" stroke-linejoin="round"/><line x1="66.5" x2="66.5" y1="119.5" y2="329.5" stroke="#B4BCCC" stroke-width="1"/><line x1="66.5" x2="650.5" y1="329.5" y2="329.5" stroke="#B4BCCC" stroke-width="1"/><line x1="60.5" x2="66.5" y1="329.5" y2="329.5" stroke="#B4BCCC" stroke-width="1"/><line x1="60.5" x2="66.5" y1="287.5" y2="287.5" stroke="#B4BCCC" stroke-width="1"/><line x1="60.5" x2="66.5" y1="245.5" y2="245.5" stroke="#B4BCCC" stroke-width="1"/><line x1="60.5" x2="66.5" y1="203.5" y2="203.5" stroke="#B4BCCC" stroke-width="1"/><line x1="60.5" x2="66.5" y1="161.5" y2="161.5" stroke="#B4BCCC" stroke-width="1"/><line x1="60.5" x2="66.5" y1="119.5" y2="119.5" stroke="#B4BCCC" stroke-width="1"/><line x1="147.05" x2="147.05" y1="329.5" y2="335.5" stroke="#B4BCCC" stroke-width="1"/><line x1="247.74" x2="247.74" y1="329.5" y2="335.5" stroke="#B4BCCC" stroke-width="1"/><line x1="348.43" x2="348.43" y1="329.5" y2="335.5" stroke="#B4BCCC" stroke-width="1"/><line x1="449.12" x2="449.12" y1="329.5" y2="335.5" stroke="#B4BCCC" stroke-width="1"/><line x1="549.81" x2="549.81" y1="329.5" y2="335.5" stroke="#B4BCCC" stroke-width="1"/><line x1="650.50" x2="650.50" y1="329.5" y2="335.5" stroke="#B4BCCC" stroke-width="1"/></svg><span class="t " style="top:625px;font-size:12px;line-height:12px;color:#47536B;letter-spacing:0.681px;right:1356.82px;">0</span><span class="t " style="top:583px;font-size:12px;line-height:12px;color:#47536B;letter-spacing:0.572px;right:1356.93px;">5,000</span><span class="t " style="top:541px;font-size:12px;line-height:12px;color:#47536B;letter-spacing:0.225px;right:1357.28px;">10,000</span><span class="t " style="top:499px;font-size:12px;line-height:12px;color:#47536B;letter-spacing:0.225px;right:1357.28px;">15,000</span><span class="t " style="top:457px;font-size:12px;line-height:12px;color:#47536B;letter-spacing:0.593px;right:1356.91px;">20,000</span><span class="t " style="top:415px;font-size:12px;line-height:12px;color:#47536B;letter-spacing:0.593px;right:1356.91px;">25,000</span><span class="t " style="top:639px;font-size:12px;line-height:12px;color:#47536B;letter-spacing:0.4px;left:-88.94827586206895px;width:1000px;text-align:center;text-indent:0.4px;">Apr 5</span><span class="t " style="top:639px;font-size:12px;line-height:12px;color:#47536B;letter-spacing:0.4px;left:11.741379310344826px;width:1000px;text-align:center;text-indent:0.4px;">Apr 10</span><span class="t " style="top:639px;font-size:12px;line-height:12px;color:#47536B;letter-spacing:0.4px;left:112.4310344827586px;width:1000px;text-align:center;text-indent:0.4px;">Apr 15</span><span class="t " style="top:639px;font-size:12px;line-height:12px;color:#47536B;letter-spacing:0.4px;left:213.12068965517233px;width:1000px;text-align:center;text-indent:0.4px;">Apr 20</span><span class="t " style="top:639px;font-size:12px;line-height:12px;color:#47536B;letter-spacing:0.4px;left:313.81034482758616px;width:1000px;text-align:center;text-indent:0.4px;">Apr 25</span><span class="t " style="top:639px;font-size:12px;line-height:12px;color:#47536B;letter-spacing:0.4px;left:414.5px;width:1000px;text-align:center;text-indent:0.4px;">Apr 30</span><!-- pageviews --><div class="b " style="left:968px;top:301px;width:686px;height:365px;border:1px solid rgba(194,201,214,0.33);border-radius:8px;background:#fff;"></div><span class="t " style="top:322px;font-size:14px;line-height:14px;color:#0B0E14;letter-spacing:0.493px;-webkit-text-stroke:0.22px;left:985px;">Page views and downloads</span><span class="t " style="top:352px;font-size:24px;line-height:24px;color:#0B0E14;letter-spacing:0.285px;font-weight:700;left:985px;">1.3M</span><div class="b " style="left:1048px;top:353px;width:41px;height:17.5px;border:1px solid #FBD5D5;border-radius:999px;background:#FFF1F1;"></div><span class="t " style="top:357px;font-size:12px;line-height:12px;color:#910808;letter-spacing:0.55px;-webkit-text-stroke:0.42px;left:569.5px;width:1000px;text-align:center;text-indent:0.55px;">-8%</span><span class="t " style="top:385px;font-size:12px;line-height:12px;color:#47536B;letter-spacing:0.37px;left:985px;">Page views and downloads for the last 6 months</span><svg class="ic" style="left:968px;top:301px" width="688" height="367" viewBox="0 0 688 367"><line x1="66.5" x2="671.5" y1="259.5" y2="259.5" stroke="#C2C9D6" stroke-opacity=".5" stroke-dasharray="4 2" stroke-width="1"/><line x1="66.5" x2="671.5" y1="189.5" y2="189.5" stroke="#C2C9D6" stroke-opacity=".5" stroke-dasharray="4 2" stroke-width="1"/><line x1="66.5" x2="671.5" y1="119.5" y2="119.5" stroke="#C2C9D6" stroke-opacity=".5" stroke-dasharray="4 2" stroke-width="1"/><rect x="88.71" y="298.40" width="42.51" height="31.10" fill="#0059B3"/><rect x="88.71" y="255.28" width="42.51" height="43.12" fill="#027AF2"/><path d="M88.71,255.28 V206.89 Q88.71,198.89 96.71,198.89 H123.22 Q131.22,198.89 131.22,206.89 V255.28 Z" fill="#99CCFF"/><rect x="175.14" y="275.60" width="42.51" height="53.90" fill="#0059B3"/><rect x="175.14" y="216.93" width="42.51" height="58.67" fill="#027AF2"/><path d="M175.14,216.93 V193.26 Q175.14,185.26 183.14,185.26 H209.65 Q217.65,185.26 217.65,193.26 V216.93 Z" fill="#99CCFF"/><rect x="261.56" y="287.77" width="42.51" height="41.73" fill="#0059B3"/><rect x="261.56" y="254.58" width="42.51" height="33.19" fill="#027AF2"/><path d="M261.56,254.58 V219.03 Q261.56,211.03 269.56,211.03 H296.08 Q304.08,211.03 304.08,219.03 V254.58 Z" fill="#99CCFF"/><rect x="347.99" y="272.08" width="42.51" height="57.42" fill="#0059B3"/><rect x="347.99" y="242.83" width="42.51" height="29.25" fill="#027AF2"/><path d="M347.99,242.83 V185.51 Q347.99,177.51 355.99,177.51 H382.51 Q390.51,177.51 390.51,185.51 V242.83 Z" fill="#99CCFF"/><rect x="434.42" y="282.77" width="42.51" height="46.73" fill="#0059B3"/><rect x="434.42" y="216.62" width="42.51" height="66.15" fill="#027AF2"/><path d="M434.42,216.62 V170.28 Q434.42,162.28 442.42,162.28 H468.94 Q476.94,162.28 476.94,170.28 V216.62 Z" fill="#99CCFF"/><rect x="520.85" y="290.68" width="42.51" height="38.82" fill="#0059B3"/><rect x="520.85" y="240.66" width="42.51" height="50.01" fill="#027AF2"/><path d="M520.85,240.66 V220.29 Q520.85,212.29 528.85,212.29 H555.36 Q563.36,212.29 563.36,220.29 V240.66 Z" fill="#99CCFF"/><rect x="607.28" y="287.77" width="42.51" height="41.73" fill="#0059B3"/><rect x="607.28" y="254.58" width="42.51" height="33.19" fill="#027AF2"/><path d="M607.28,254.58 V230.91 Q607.28,222.91 615.28,222.91 H641.79 Q649.79,222.91 649.79,230.91 V254.58 Z" fill="#99CCFF"/><line x1="66.5" x2="66.5" y1="119.5" y2="335.5" stroke="#B4BCCC" stroke-width="1"/><line x1="66.5" x2="671.5" y1="329.5" y2="329.5" stroke="#B4BCCC" stroke-width="1"/><line x1="60.5" x2="66.5" y1="329.5" y2="329.5" stroke="#B4BCCC" stroke-width="1"/><line x1="60.5" x2="66.5" y1="259.5" y2="259.5" stroke="#B4BCCC" stroke-width="1"/><line x1="60.5" x2="66.5" y1="189.5" y2="189.5" stroke="#B4BCCC" stroke-width="1"/><line x1="60.5" x2="66.5" y1="119.5" y2="119.5" stroke="#B4BCCC" stroke-width="1"/><line x1="152.93" x2="152.93" y1="329.5" y2="335.5" stroke="#B4BCCC" stroke-width="1"/><line x1="239.36" x2="239.36" y1="329.5" y2="335.5" stroke="#B4BCCC" stroke-width="1"/><line x1="325.79" x2="325.79" y1="329.5" y2="335.5" stroke="#B4BCCC" stroke-width="1"/><line x1="412.21" x2="412.21" y1="329.5" y2="335.5" stroke="#B4BCCC" stroke-width="1"/><line x1="498.64" x2="498.64" y1="329.5" y2="335.5" stroke="#B4BCCC" stroke-width="1"/><line x1="585.07" x2="585.07" y1="329.5" y2="335.5" stroke="#B4BCCC" stroke-width="1"/><line x1="671.50" x2="671.50" y1="329.5" y2="335.5" stroke="#B4BCCC" stroke-width="1"/></svg><span class="t " style="top:625px;font-size:12px;line-height:12px;color:#47536B;letter-spacing:0.681px;right:652.82px;">0</span><span class="t " style="top:555px;font-size:12px;line-height:12px;color:#47536B;letter-spacing:0.572px;right:652.93px;">5,000</span><span class="t " style="top:485px;font-size:12px;line-height:12px;color:#47536B;letter-spacing:0.225px;right:653.27px;">10,000</span><span class="t " style="top:415px;font-size:12px;line-height:12px;color:#47536B;letter-spacing:0.225px;right:653.27px;">15,000</span><span class="t " style="top:639px;font-size:12px;line-height:12px;color:#47536B;letter-spacing:0.4px;left:577.7142857142858px;width:1000px;text-align:center;text-indent:0.4px;">Jan</span><span class="t " style="top:639px;font-size:12px;line-height:12px;color:#47536B;letter-spacing:0.4px;left:664.1428571428571px;width:1000px;text-align:center;text-indent:0.4px;">Feb</span><span class="t " style="top:639px;font-size:12px;line-height:12px;color:#47536B;letter-spacing:0.4px;left:750.5714285714287px;width:1000px;text-align:center;text-indent:0.4px;">Mar</span><span class="t " style="top:639px;font-size:12px;line-height:12px;color:#47536B;letter-spacing:0.4px;left:837.0px;width:1000px;text-align:center;text-indent:0.4px;">Apr</span><span class="t " style="top:639px;font-size:12px;line-height:12px;color:#47536B;letter-spacing:0.4px;left:923.4285714285716px;width:1000px;text-align:center;text-indent:0.4px;">May</span><span class="t " style="top:639px;font-size:12px;line-height:12px;color:#47536B;letter-spacing:0.4px;left:1009.8571428571429px;width:1000px;text-align:center;text-indent:0.4px;">Jun</span><span class="t " style="top:639px;font-size:12px;line-height:12px;color:#47536B;letter-spacing:0.4px;left:1096.2857142857142px;width:1000px;text-align:center;text-indent:0.4px;">Jul</span><!-- details --><span class="t " style="top:690px;font-size:18px;line-height:18px;color:#0B0E14;letter-spacing:-0.004px;font-weight:700;left:264px;">Details</span><div class="b " style="left:264px;top:729px;width:1038px;height:380px;border:1px solid rgba(194,201,214,0.33);border-radius:8px 8px 0 0;background:#FCFCFC;overflow:hidden;"><div class="b" style="left:0;top:0;width:1038px;height:39px;background:#F5F6FA;border-bottom:1px solid rgba(194,201,214,0.33);"></div><div class="b" style="left:0;top:75px;width:1038px;height:1px;background:rgba(218,222,231,.55);"></div><div class="b" style="left:0;top:111px;width:1038px;height:1px;background:rgba(218,222,231,.55);"></div><div class="b" style="left:0;top:147px;width:1038px;height:1px;background:rgba(218,222,231,.55);"></div><div class="b" style="left:0;top:183px;width:1038px;height:1px;background:rgba(218,222,231,.55);"></div><div class="b" style="left:0;top:219px;width:1038px;height:1px;background:rgba(218,222,231,.55);"></div><div class="b" style="left:0;top:255px;width:1038px;height:1px;background:rgba(218,222,231,.55);"></div><div class="b" style="left:0;top:291px;width:1038px;height:1px;background:rgba(218,222,231,.55);"></div><div class="b" style="left:0;top:327px;width:1038px;height:1px;background:rgba(218,222,231,.55);"></div><div class="b" style="left:0;top:363px;width:1038px;height:1px;background:rgba(218,222,231,.55);"></div></div><div class="b " style="left:281.2px;top:741.2px;width:13.6px;height:13.6px;border:1px solid rgba(194,201,214,.7);border-radius:5px;background:rgba(235,238,244,.75);box-shadow:0 0 0 1px rgba(255,255,255,.5);"></div><span class="t " style="top:742px;font-size:14px;line-height:14px;color:#0B0E14;letter-spacing:0.423px;-webkit-text-stroke:0.22px;left:325px;">Page Title</span><span class="t " style="top:742px;font-size:14px;line-height:14px;color:#0B0E14;letter-spacing:0.383px;-webkit-text-stroke:0.22px;left:532px;">Status</span><span class="t " style="top:742px;font-size:14px;line-height:14px;color:#0B0E14;letter-spacing:0.487px;-webkit-text-stroke:0.22px;right:952.01px;">Users</span><span class="t " style="top:742px;font-size:14px;line-height:14px;color:#0B0E14;letter-spacing:0.449px;-webkit-text-stroke:0.22px;right:814.25px;">Event Count</span><span class="t " style="top:742px;font-size:14px;line-height:14px;color:#0B0E14;letter-spacing:0.523px;-webkit-text-stroke:0.22px;right:676.38px;">Views per User</span><span class="t " style="top:742px;font-size:14px;line-height:14px;color:#0B0E14;letter-spacing:0.49px;-webkit-text-stroke:0.22px;right:538.51px;">Average Time</span><span class="t " style="top:742px;font-size:14px;line-height:14px;color:#0B0E14;letter-spacing:0.481px;-webkit-text-stroke:0.22px;left:1163px;">Daily Conversions</span><div class="b " style="left:282.2px;top:779.9000000000001px;width:13.6px;height:13.6px;border:1px solid rgba(194,201,214,.7);border-radius:5px;background:rgba(235,238,244,.75);box-shadow:0 0 0 1px rgba(255,255,255,.5);"></div><span class="t " style="top:781px;font-size:14px;line-height:14px;color:#0B0E14;letter-spacing:0.439px;left:325px;">Homepage Overview</span><div class="b " style="left:532.0px;top:778.6px;width:52.6px;height:17.5px;border:1px solid #D2F5D2;border-radius:999px;background:#F6FEF6;"></div><span class="t " style="top:783px;font-size:12px;line-height:12px;color:#1F7A1F;letter-spacing:0.285px;-webkit-text-stroke:0.42px;left:59.299999999999955px;width:1000px;text-align:center;text-indent:0.285px;">Online</span><span class="t " style="top:781px;font-size:14px;line-height:14px;color:#0B0E14;letter-spacing:0.38px;right:950.12px;">212423</span><span class="t " style="top:781px;font-size:14px;line-height:14px;color:#0B0E14;letter-spacing:0.807px;right:811.89px;">8345</span><span class="t " style="top:781px;font-size:14px;line-height:14px;color:#0B0E14;letter-spacing:-0.012px;right:674.91px;">18.5</span><span class="t " style="top:781px;font-size:14px;line-height:14px;color:#0B0E14;letter-spacing:0.135px;right:536.87px;">2m 15s</span><div class="b " style="left:282.2px;top:815.9000000000001px;width:13.6px;height:13.6px;border:1px solid rgba(194,201,214,.7);border-radius:5px;background:rgba(235,238,244,.75);box-shadow:0 0 0 1px rgba(255,255,255,.5);"></div><span class="t " style="top:817px;font-size:14px;line-height:14px;color:#0B0E14;letter-spacing:0.388px;left:325px;">Product Details - Gadgets</span><div class="b " style="left:532.0px;top:814.6px;width:52.6px;height:17.5px;border:1px solid #D2F5D2;border-radius:999px;background:#F6FEF6;"></div><span class="t " style="top:819px;font-size:12px;line-height:12px;color:#1F7A1F;letter-spacing:0.285px;-webkit-text-stroke:0.42px;left:59.299999999999955px;width:1000px;text-align:center;text-indent:0.285px;">Online</span><span class="t " style="top:817px;font-size:14px;line-height:14px;color:#0B0E14;letter-spacing:0.38px;right:950.12px;">172240</span><span class="t " style="top:817px;font-size:14px;line-height:14px;color:#0B0E14;letter-spacing:0.807px;right:811.89px;">5653</span><span class="t " style="top:817px;font-size:14px;line-height:14px;color:#0B0E14;letter-spacing:0.571px;right:674.33px;">9.7</span><span class="t " style="top:817px;font-size:14px;line-height:14px;color:#0B0E14;letter-spacing:0.564px;right:536.44px;">2m 30s</span><div class="b " style="left:282.2px;top:851.9000000000001px;width:13.6px;height:13.6px;border:1px solid rgba(194,201,214,.7);border-radius:5px;background:rgba(235,238,244,.75);box-shadow:0 0 0 1px rgba(255,255,255,.5);"></div><span class="t " style="top:853px;font-size:14px;line-height:14px;color:#0B0E14;letter-spacing:0.339px;left:325px;">Checkout Process - Step 1</span><div class="b " style="left:532.0px;top:850.6px;width:53.7px;height:17.5px;border:1px solid #DADEE7;border-radius:999px;background:#EBEEF4;"></div><span class="t " style="top:855px;font-size:12px;line-height:12px;color:#566481;letter-spacing:0.533px;-webkit-text-stroke:0.42px;left:59.85000000000002px;width:1000px;text-align:center;text-indent:0.533px;">Offline</span><span class="t " style="top:853px;font-size:14px;line-height:14px;color:#0B0E14;letter-spacing:0.808px;right:949.69px;">58240</span><span class="t " style="top:853px;font-size:14px;line-height:14px;color:#0B0E14;letter-spacing:0.807px;right:811.89px;">3455</span><span class="t " style="top:853px;font-size:14px;line-height:14px;color:#0B0E14;letter-spacing:-0.012px;right:674.91px;">15.2</span><span class="t " style="top:853px;font-size:14px;line-height:14px;color:#0B0E14;letter-spacing:0.135px;right:536.87px;">2m 10s</span><div class="b " style="left:282.2px;top:887.9000000000001px;width:13.6px;height:13.6px;border:1px solid rgba(194,201,214,.7);border-radius:5px;background:rgba(235,238,244,.75);box-shadow:0 0 0 1px rgba(255,255,255,.5);"></div><span class="t " style="top:889px;font-size:14px;line-height:14px;color:#0B0E14;letter-spacing:0.363px;left:325px;">User Profile Dashboard</span><div class="b " style="left:532.0px;top:886.6px;width:52.6px;height:17.5px;border:1px solid #D2F5D2;border-radius:999px;background:#F6FEF6;"></div><span class="t " style="top:891px;font-size:12px;line-height:12px;color:#1F7A1F;letter-spacing:0.285px;-webkit-text-stroke:0.42px;left:59.299999999999955px;width:1000px;text-align:center;text-indent:0.285px;">Online</span><span class="t " style="top:889px;font-size:14px;line-height:14px;color:#0B0E14;letter-spacing:0.808px;right:949.69px;">96240</span><span class="t " style="top:889px;font-size:14px;line-height:14px;color:#0B0E14;letter-spacing:0.123px;right:812.58px;">112543</span><span class="t " style="top:889px;font-size:14px;line-height:14px;color:#0B0E14;letter-spacing:0.571px;right:674.33px;">4.5</span><span class="t " style="top:889px;font-size:14px;line-height:14px;color:#0B0E14;letter-spacing:0.564px;right:536.44px;">2m 40s</span><div class="b " style="left:282.2px;top:923.9000000000001px;width:13.6px;height:13.6px;border:1px solid rgba(194,201,214,.7);border-radius:5px;background:rgba(235,238,244,.75);box-shadow:0 0 0 1px rgba(255,255,255,.5);"></div><span class="t " style="top:925px;font-size:14px;line-height:14px;color:#0B0E14;letter-spacing:0.503px;left:325px;">Article Listing - Tech News</span><div class="b " style="left:532.0px;top:922.6px;width:53.7px;height:17.5px;border:1px solid #DADEE7;border-radius:999px;background:#EBEEF4;"></div><span class="t " style="top:927px;font-size:12px;line-height:12px;color:#566481;letter-spacing:0.533px;-webkit-text-stroke:0.42px;left:59.85000000000002px;width:1000px;text-align:center;text-indent:0.533px;">Offline</span><span class="t " style="top:925px;font-size:14px;line-height:14px;color:#0B0E14;letter-spacing:0.38px;right:950.12px;">142240</span><span class="t " style="top:925px;font-size:14px;line-height:14px;color:#0B0E14;letter-spacing:0.807px;right:811.89px;">3653</span><span class="t " style="top:925px;font-size:14px;line-height:14px;color:#0B0E14;letter-spacing:0px;right:674.90px;transform:scaleX(0.9557);transform-origin:right center;">3.1</span><span class="t " style="top:925px;font-size:14px;line-height:14px;color:#0B0E14;letter-spacing:0.564px;right:536.44px;">2m 55s</span><div class="b " style="left:282.2px;top:959.9000000000001px;width:13.6px;height:13.6px;border:1px solid rgba(194,201,214,.7);border-radius:5px;background:rgba(235,238,244,.75);box-shadow:0 0 0 1px rgba(255,255,255,.5);"></div><span class="t " style="top:961px;font-size:14px;line-height:14px;color:#0B0E14;letter-spacing:0.367px;left:325px;">FAQs - Customer Support</span><div class="b " style="left:532.0px;top:958.6px;width:52.6px;height:17.5px;border:1px solid #D2F5D2;border-radius:999px;background:#F6FEF6;"></div><span class="t " style="top:963px;font-size:12px;line-height:12px;color:#1F7A1F;letter-spacing:0.285px;-webkit-text-stroke:0.42px;left:59.299999999999955px;width:1000px;text-align:center;text-indent:0.285px;">Online</span><span class="t " style="top:961px;font-size:14px;line-height:14px;color:#0B0E14;letter-spacing:0.293px;right:950.21px;">15240</span><span class="t " style="top:961px;font-size:14px;line-height:14px;color:#0B0E14;letter-spacing:0.38px;right:812.32px;">106543</span><span class="t " style="top:961px;font-size:14px;line-height:14px;color:#0B0E14;letter-spacing:0.571px;right:674.33px;">7.2</span><span class="t " style="top:961px;font-size:14px;line-height:14px;color:#0B0E14;letter-spacing:0.564px;right:536.44px;">2m 20s</span><div class="b " style="left:282.2px;top:995.9000000000001px;width:13.6px;height:13.6px;border:1px solid rgba(194,201,214,.7);border-radius:5px;background:rgba(235,238,244,.75);box-shadow:0 0 0 1px rgba(255,255,255,.5);"></div><span class="t " style="top:997px;font-size:14px;line-height:14px;color:#0B0E14;letter-spacing:0.412px;left:325px;">Product Comparison - La...</span><div class="b " style="left:532.0px;top:994.6px;width:53.7px;height:17.5px;border:1px solid #DADEE7;border-radius:999px;background:#EBEEF4;"></div><span class="t " style="top:999px;font-size:12px;line-height:12px;color:#566481;letter-spacing:0.533px;-webkit-text-stroke:0.42px;left:59.85000000000002px;width:1000px;text-align:center;text-indent:0.533px;">Offline</span><span class="t " style="top:997px;font-size:14px;line-height:14px;color:#0B0E14;letter-spacing:0.808px;right:949.69px;">32240</span><span class="t " style="top:997px;font-size:14px;line-height:14px;color:#0B0E14;letter-spacing:0.807px;right:811.89px;">7853</span><span class="t " style="top:997px;font-size:14px;line-height:14px;color:#0B0E14;letter-spacing:0.571px;right:674.33px;">6.5</span><span class="t " style="top:997px;font-size:14px;line-height:14px;color:#0B0E14;letter-spacing:0.564px;right:536.44px;">2m 50s</span><div class="b " style="left:282.2px;top:1031.9px;width:13.6px;height:13.6px;border:1px solid rgba(194,201,214,.7);border-radius:5px;background:rgba(235,238,244,.75);box-shadow:0 0 0 1px rgba(255,255,255,.5);"></div><span class="t " style="top:1033px;font-size:14px;line-height:14px;color:#0B0E14;letter-spacing:0.429px;left:325px;">Shopping Cart - Electronics</span><div class="b " style="left:532.0px;top:1030.6px;width:52.6px;height:17.5px;border:1px solid #D2F5D2;border-radius:999px;background:#F6FEF6;"></div><span class="t " style="top:1035px;font-size:12px;line-height:12px;color:#1F7A1F;letter-spacing:0.285px;-webkit-text-stroke:0.42px;left:59.299999999999955px;width:1000px;text-align:center;text-indent:0.285px;">Online</span><span class="t " style="top:1033px;font-size:14px;line-height:14px;color:#0B0E14;letter-spacing:0.808px;right:949.69px;">48240</span><span class="t " style="top:1033px;font-size:14px;line-height:14px;color:#0B0E14;letter-spacing:0.807px;right:811.89px;">8563</span><span class="t " style="top:1033px;font-size:14px;line-height:14px;color:#0B0E14;letter-spacing:0.571px;right:674.33px;">4.3</span><span class="t " style="top:1033px;font-size:14px;line-height:14px;color:#0B0E14;letter-spacing:0.135px;right:536.87px;">3m 10s</span><div class="b " style="left:282.2px;top:1067.9px;width:13.6px;height:13.6px;border:1px solid rgba(194,201,214,.7);border-radius:5px;background:rgba(235,238,244,.75);box-shadow:0 0 0 1px rgba(255,255,255,.5);"></div><span class="t " style="top:1069px;font-size:14px;line-height:14px;color:#0B0E14;letter-spacing:0.409px;left:325px;">Payment Confirmation - B...</span><div class="b " style="left:532.0px;top:1066.6px;width:53.7px;height:17.5px;border:1px solid #DADEE7;border-radius:999px;background:#EBEEF4;"></div><span class="t " style="top:1071px;font-size:12px;line-height:12px;color:#566481;letter-spacing:0.533px;-webkit-text-stroke:0.42px;left:59.85000000000002px;width:1000px;text-align:center;text-indent:0.533px;">Offline</span><span class="t " style="top:1069px;font-size:14px;line-height:14px;color:#0B0E14;letter-spacing:0.293px;right:950.21px;">18240</span><span class="t " style="top:1069px;font-size:14px;line-height:14px;color:#0B0E14;letter-spacing:0.807px;right:811.89px;">4563</span><span class="t " style="top:1069px;font-size:14px;line-height:14px;color:#0B0E14;letter-spacing:0.571px;right:674.33px;">2.7</span><span class="t " style="top:1069px;font-size:14px;line-height:14px;color:#0B0E14;letter-spacing:0.564px;right:536.44px;">3m 25s</span><svg class="ic" style="left:1153px;top:769px" width="150" height="330" viewBox="0 0 150 330"><rect x="14.55" y="25.81" width="3.6" height="2.19" fill="#026BD4"/><rect x="18.59" y="25.72" width="3.6" height="2.28" fill="#026BD4"/><rect x="22.63" y="25.23" width="3.6" height="2.77" fill="#026BD4"/><rect x="26.67" y="25.12" width="3.6" height="2.88" fill="#026BD4"/><rect x="30.71" y="25.01" width="3.6" height="2.99" fill="#026BD4"/><rect x="34.75" y="25.04" width="3.6" height="2.96" fill="#026BD4"/><rect x="38.79" y="24.88" width="3.6" height="3.12" fill="#026BD4"/><rect x="42.83" y="24.23" width="3.6" height="3.77" fill="#026BD4"/><rect x="46.87" y="24.50" width="3.6" height="3.50" fill="#026BD4"/><rect x="50.91" y="23.59" width="3.6" height="4.41" fill="#026BD4"/><rect x="54.95" y="23.74" width="3.6" height="4.26" fill="#026BD4"/><rect x="58.99" y="24.05" width="3.6" height="3.95" fill="#026BD4"/><rect x="63.03" y="23.37" width="3.6" height="4.63" fill="#026BD4"/><rect x="67.07" y="22.66" width="3.6" height="5.34" fill="#026BD4"/><rect x="71.11" y="21.24" width="3.6" height="6.76" fill="#026BD4"/><rect x="75.15" y="22.08" width="3.6" height="5.92" fill="#026BD4"/><rect x="79.19" y="21.63" width="3.6" height="6.37" fill="#026BD4"/><rect x="83.23" y="21.70" width="3.6" height="6.30" fill="#026BD4"/><rect x="87.27" y="20.71" width="3.6" height="7.29" fill="#026BD4"/><rect x="91.31" y="20.20" width="3.6" height="7.80" fill="#026BD4"/><rect x="95.35" y="20.08" width="3.6" height="7.92" fill="#026BD4"/><rect x="99.39" y="19.05" width="3.6" height="8.95" fill="#026BD4"/><rect x="103.43" y="19.48" width="3.6" height="8.52" fill="#026BD4"/><rect x="107.47" y="20.13" width="3.6" height="7.87" fill="#026BD4"/><rect x="111.51" y="18.54" width="3.6" height="9.46" fill="#026BD4"/><rect x="115.55" y="16.18" width="3.6" height="11.82" fill="#026BD4"/><rect x="119.59" y="12.75" width="3.6" height="15.25" fill="#026BD4"/><rect x="123.63" y="12.60" width="3.6" height="15.40" fill="#026BD4"/><rect x="127.67" y="13.79" width="3.6" height="14.21" fill="#026BD4"/><rect x="131.71" y="15.86" width="3.6" height="12.14" fill="#026BD4"/><rect x="119.59" y="62.40" width="3.6" height="1.60" fill="#026BD4"/><rect x="123.63" y="58.80" width="3.6" height="5.20" fill="#026BD4"/><rect x="127.67" y="55.80" width="3.6" height="8.20" fill="#026BD4"/><rect x="131.71" y="54.40" width="3.6" height="9.60" fill="#026BD4"/><rect x="14.55" y="99.10" width="3.6" height="0.90" fill="#026BD4"/><rect x="18.59" y="99.10" width="3.6" height="0.90" fill="#026BD4"/><rect x="22.63" y="98.60" width="3.6" height="1.40" fill="#026BD4"/><rect x="26.67" y="99.20" width="3.6" height="0.80" fill="#026BD4"/><rect x="30.71" y="98.80" width="3.6" height="1.20" fill="#026BD4"/><rect x="34.75" y="98.80" width="3.6" height="1.20" fill="#026BD4"/><rect x="38.79" y="98.00" width="3.6" height="2.00" fill="#026BD4"/><rect x="42.83" y="97.70" width="3.6" height="2.30" fill="#026BD4"/><rect x="46.87" y="97.70" width="3.6" height="2.30" fill="#026BD4"/><rect x="50.91" y="97.30" width="3.6" height="2.70" fill="#026BD4"/><rect x="54.95" y="96.60" width="3.6" height="3.40" fill="#026BD4"/><rect x="58.99" y="95.80" width="3.6" height="4.20" fill="#026BD4"/><rect x="63.03" y="93.60" width="3.6" height="6.40" fill="#026BD4"/><rect x="67.07" y="95.30" width="3.6" height="4.70" fill="#026BD4"/><rect x="71.11" y="94.50" width="3.6" height="5.50" fill="#026BD4"/><rect x="75.15" y="93.60" width="3.6" height="6.40" fill="#026BD4"/><rect x="79.19" y="93.60" width="3.6" height="6.40" fill="#026BD4"/><rect x="83.23" y="93.60" width="3.6" height="6.40" fill="#026BD4"/><rect x="87.27" y="92.90" width="3.6" height="7.10" fill="#026BD4"/><rect x="91.31" y="92.00" width="3.6" height="8.00" fill="#026BD4"/><rect x="95.35" y="91.80" width="3.6" height="8.20" fill="#026BD4"/><rect x="99.39" y="90.30" width="3.6" height="9.70" fill="#026BD4"/><rect x="103.43" y="90.90" width="3.6" height="9.10" fill="#026BD4"/><rect x="107.47" y="91.40" width="3.6" height="8.60" fill="#026BD4"/><rect x="111.51" y="90.30" width="3.6" height="9.70" fill="#026BD4"/><rect x="115.55" y="89.80" width="3.6" height="10.20" fill="#026BD4"/><rect x="119.59" y="87.40" width="3.6" height="12.60" fill="#026BD4"/><rect x="123.63" y="87.40" width="3.6" height="12.60" fill="#026BD4"/><rect x="127.67" y="87.40" width="3.6" height="12.60" fill="#026BD4"/><rect x="131.71" y="87.40" width="3.6" height="12.60" fill="#026BD4"/><rect x="14.55" y="133.60" width="3.6" height="2.40" fill="#026BD4"/><rect x="18.59" y="133.60" width="3.6" height="2.40" fill="#026BD4"/><rect x="22.63" y="132.00" width="3.6" height="4.00" fill="#026BD4"/><rect x="26.67" y="132.00" width="3.6" height="4.00" fill="#026BD4"/><rect x="30.71" y="132.00" width="3.6" height="4.00" fill="#026BD4"/><rect x="34.75" y="132.00" width="3.6" height="4.00" fill="#026BD4"/><rect x="38.79" y="132.00" width="3.6" height="4.00" fill="#026BD4"/><rect x="42.83" y="132.00" width="3.6" height="4.00" fill="#026BD4"/><rect x="46.87" y="132.00" width="3.6" height="4.00" fill="#026BD4"/><rect x="50.91" y="128.50" width="3.6" height="7.50" fill="#026BD4"/><rect x="54.95" y="131.00" width="3.6" height="5.00" fill="#026BD4"/><rect x="58.99" y="131.90" width="3.6" height="4.10" fill="#026BD4"/><rect x="63.03" y="129.90" width="3.6" height="6.10" fill="#026BD4"/><rect x="67.07" y="129.90" width="3.6" height="6.10" fill="#026BD4"/><rect x="71.11" y="128.30" width="3.6" height="7.70" fill="#026BD4"/><rect x="75.15" y="128.30" width="3.6" height="7.70" fill="#026BD4"/><rect x="79.19" y="127.50" width="3.6" height="8.50" fill="#026BD4"/><rect x="83.23" y="127.50" width="3.6" height="8.50" fill="#026BD4"/><rect x="87.27" y="126.20" width="3.6" height="9.80" fill="#026BD4"/><rect x="91.31" y="126.20" width="3.6" height="9.80" fill="#026BD4"/><rect x="95.35" y="125.80" width="3.6" height="10.20" fill="#026BD4"/><rect x="99.39" y="123.80" width="3.6" height="12.20" fill="#026BD4"/><rect x="103.43" y="123.80" width="3.6" height="12.20" fill="#026BD4"/><rect x="107.47" y="125.80" width="3.6" height="10.20" fill="#026BD4"/><rect x="111.51" y="123.80" width="3.6" height="12.20" fill="#026BD4"/><rect x="115.55" y="123.80" width="3.6" height="12.20" fill="#026BD4"/><rect x="119.59" y="121.20" width="3.6" height="14.80" fill="#026BD4"/><rect x="123.63" y="120.10" width="3.6" height="15.90" fill="#026BD4"/><rect x="127.67" y="121.80" width="3.6" height="14.20" fill="#026BD4"/><rect x="131.71" y="121.80" width="3.6" height="14.20" fill="#026BD4"/><rect x="14.55" y="170.00" width="3.6" height="2.00" fill="#026BD4"/><rect x="18.59" y="170.00" width="3.6" height="2.00" fill="#026BD4"/><rect x="22.63" y="169.00" width="3.6" height="3.00" fill="#026BD4"/><rect x="26.67" y="169.00" width="3.6" height="3.00" fill="#026BD4"/><rect x="30.71" y="169.00" width="3.6" height="3.00" fill="#026BD4"/><rect x="34.75" y="169.00" width="3.6" height="3.00" fill="#026BD4"/><rect x="38.79" y="169.00" width="3.6" height="3.00" fill="#026BD4"/><rect x="42.83" y="169.00" width="3.6" height="3.00" fill="#026BD4"/><rect x="46.87" y="169.00" width="3.6" height="3.00" fill="#026BD4"/><rect x="50.91" y="168.30" width="3.6" height="3.70" fill="#026BD4"/><rect x="54.95" y="166.70" width="3.6" height="5.30" fill="#026BD4"/><rect x="58.99" y="167.70" width="3.6" height="4.30" fill="#026BD4"/><rect x="63.03" y="166.70" width="3.6" height="5.30" fill="#026BD4"/><rect x="67.07" y="166.70" width="3.6" height="5.30" fill="#026BD4"/><rect x="71.11" y="165.90" width="3.6" height="6.10" fill="#026BD4"/><rect x="75.15" y="165.90" width="3.6" height="6.10" fill="#026BD4"/><rect x="79.19" y="164.90" width="3.6" height="7.10" fill="#026BD4"/><rect x="83.23" y="164.90" width="3.6" height="7.10" fill="#026BD4"/><rect x="87.27" y="163.30" width="3.6" height="8.70" fill="#026BD4"/><rect x="91.31" y="163.30" width="3.6" height="8.70" fill="#026BD4"/><rect x="95.35" y="163.30" width="3.6" height="8.70" fill="#026BD4"/><rect x="99.39" y="161.40" width="3.6" height="10.60" fill="#026BD4"/><rect x="103.43" y="162.20" width="3.6" height="9.80" fill="#026BD4"/><rect x="107.47" y="163.30" width="3.6" height="8.70" fill="#026BD4"/><rect x="111.51" y="161.40" width="3.6" height="10.60" fill="#026BD4"/><rect x="115.55" y="160.40" width="3.6" height="11.60" fill="#026BD4"/><rect x="119.59" y="158.80" width="3.6" height="13.20" fill="#026BD4"/><rect x="123.63" y="157.80" width="3.6" height="14.20" fill="#026BD4"/><rect x="127.67" y="155.30" width="3.6" height="16.70" fill="#026BD4"/><rect x="131.71" y="155.30" width="3.6" height="16.70" fill="#026BD4"/><rect x="14.55" y="207.40" width="3.6" height="0.60" fill="#026BD4"/><rect x="18.59" y="207.40" width="3.6" height="0.60" fill="#026BD4"/><rect x="22.63" y="207.40" width="3.6" height="0.60" fill="#026BD4"/><rect x="26.67" y="207.40" width="3.6" height="0.60" fill="#026BD4"/><rect x="30.71" y="206.40" width="3.6" height="1.60" fill="#026BD4"/><rect x="34.75" y="206.40" width="3.6" height="1.60" fill="#026BD4"/><rect x="38.79" y="206.40" width="3.6" height="1.60" fill="#026BD4"/><rect x="42.83" y="206.00" width="3.6" height="2.00" fill="#026BD4"/><rect x="46.87" y="206.00" width="3.6" height="2.00" fill="#026BD4"/><rect x="50.91" y="206.00" width="3.6" height="2.00" fill="#026BD4"/><rect x="54.95" y="205.00" width="3.6" height="3.00" fill="#026BD4"/><rect x="58.99" y="206.00" width="3.6" height="2.00" fill="#026BD4"/><rect x="63.03" y="204.30" width="3.6" height="3.70" fill="#026BD4"/><rect x="67.07" y="204.30" width="3.6" height="3.70" fill="#026BD4"/><rect x="71.11" y="204.30" width="3.6" height="3.70" fill="#026BD4"/><rect x="75.15" y="203.30" width="3.6" height="4.70" fill="#026BD4"/><rect x="79.19" y="202.30" width="3.6" height="5.70" fill="#026BD4"/><rect x="83.23" y="201.50" width="3.6" height="6.50" fill="#026BD4"/><rect x="87.27" y="201.50" width="3.6" height="6.50" fill="#026BD4"/><rect x="91.31" y="200.50" width="3.6" height="7.50" fill="#026BD4"/><rect x="95.35" y="200.50" width="3.6" height="7.50" fill="#026BD4"/><rect x="99.39" y="200.50" width="3.6" height="7.50" fill="#026BD4"/><rect x="103.43" y="199.90" width="3.6" height="8.10" fill="#026BD4"/><rect x="107.47" y="199.90" width="3.6" height="8.10" fill="#026BD4"/><rect x="111.51" y="199.90" width="3.6" height="8.10" fill="#026BD4"/><rect x="115.55" y="198.40" width="3.6" height="9.60" fill="#026BD4"/><rect x="119.59" y="196.80" width="3.6" height="11.20" fill="#026BD4"/><rect x="123.63" y="195.40" width="3.6" height="12.60" fill="#026BD4"/><rect x="127.67" y="194.40" width="3.6" height="13.60" fill="#026BD4"/><rect x="131.71" y="192.80" width="3.6" height="15.20" fill="#026BD4"/><rect x="14.55" y="242.40" width="3.6" height="1.60" fill="#026BD4"/><rect x="18.59" y="242.40" width="3.6" height="1.60" fill="#026BD4"/><rect x="22.63" y="241.80" width="3.6" height="2.20" fill="#026BD4"/><rect x="26.67" y="241.80" width="3.6" height="2.20" fill="#026BD4"/><rect x="30.71" y="241.00" width="3.6" height="3.00" fill="#026BD4"/><rect x="34.75" y="241.00" width="3.6" height="3.00" fill="#026BD4"/><rect x="38.79" y="241.00" width="3.6" height="3.00" fill="#026BD4"/><rect x="42.83" y="240.30" width="3.6" height="3.70" fill="#026BD4"/><rect x="46.87" y="240.30" width="3.6" height="3.70" fill="#026BD4"/><rect x="50.91" y="239.30" width="3.6" height="4.70" fill="#026BD4"/><rect x="54.95" y="238.30" width="3.6" height="5.70" fill="#026BD4"/><rect x="58.99" y="239.30" width="3.6" height="4.70" fill="#026BD4"/><rect x="63.03" y="238.30" width="3.6" height="5.70" fill="#026BD4"/><rect x="67.07" y="237.30" width="3.6" height="6.70" fill="#026BD4"/><rect x="71.11" y="236.30" width="3.6" height="7.70" fill="#026BD4"/><rect x="75.15" y="236.30" width="3.6" height="7.70" fill="#026BD4"/><rect x="79.19" y="235.30" width="3.6" height="8.70" fill="#026BD4"/><rect x="83.23" y="234.70" width="3.6" height="9.30" fill="#026BD4"/><rect x="87.27" y="233.60" width="3.6" height="10.40" fill="#026BD4"/><rect x="91.31" y="233.60" width="3.6" height="10.40" fill="#026BD4"/><rect x="95.35" y="233.60" width="3.6" height="10.40" fill="#026BD4"/><rect x="99.39" y="231.20" width="3.6" height="12.80" fill="#026BD4"/><rect x="103.43" y="232.20" width="3.6" height="11.80" fill="#026BD4"/><rect x="107.47" y="233.20" width="3.6" height="10.80" fill="#026BD4"/><rect x="111.51" y="230.60" width="3.6" height="13.40" fill="#026BD4"/><rect x="115.55" y="229.20" width="3.6" height="14.80" fill="#026BD4"/><rect x="119.59" y="227.50" width="3.6" height="16.50" fill="#026BD4"/><rect x="123.63" y="227.10" width="3.6" height="16.90" fill="#026BD4"/><rect x="127.67" y="226.10" width="3.6" height="17.90" fill="#026BD4"/><rect x="131.71" y="225.10" width="3.6" height="18.90" fill="#026BD4"/><rect x="14.55" y="279.40" width="3.6" height="0.60" fill="#026BD4"/><rect x="18.59" y="279.40" width="3.6" height="0.60" fill="#026BD4"/><rect x="22.63" y="279.40" width="3.6" height="0.60" fill="#026BD4"/><rect x="26.67" y="279.40" width="3.6" height="0.60" fill="#026BD4"/><rect x="30.71" y="279.40" width="3.6" height="0.60" fill="#026BD4"/><rect x="34.75" y="278.80" width="3.6" height="1.20" fill="#026BD4"/><rect x="38.79" y="278.80" width="3.6" height="1.20" fill="#026BD4"/><rect x="42.83" y="278.80" width="3.6" height="1.20" fill="#026BD4"/><rect x="46.87" y="278.80" width="3.6" height="1.20" fill="#026BD4"/><rect x="50.91" y="278.00" width="3.6" height="2.00" fill="#026BD4"/><rect x="54.95" y="278.00" width="3.6" height="2.00" fill="#026BD4"/><rect x="58.99" y="278.00" width="3.6" height="2.00" fill="#026BD4"/><rect x="63.03" y="277.60" width="3.6" height="2.40" fill="#026BD4"/><rect x="67.07" y="277.00" width="3.6" height="3.00" fill="#026BD4"/><rect x="71.11" y="277.00" width="3.6" height="3.00" fill="#026BD4"/><rect x="75.15" y="276.10" width="3.6" height="3.90" fill="#026BD4"/><rect x="79.19" y="276.10" width="3.6" height="3.90" fill="#026BD4"/><rect x="83.23" y="276.10" width="3.6" height="3.90" fill="#026BD4"/><rect x="87.27" y="276.10" width="3.6" height="3.90" fill="#026BD4"/><rect x="91.31" y="275.50" width="3.6" height="4.50" fill="#026BD4"/><rect x="95.35" y="275.50" width="3.6" height="4.50" fill="#026BD4"/><rect x="99.39" y="274.30" width="3.6" height="5.70" fill="#026BD4"/><rect x="103.43" y="274.30" width="3.6" height="5.70" fill="#026BD4"/><rect x="107.47" y="274.30" width="3.6" height="5.70" fill="#026BD4"/><rect x="111.51" y="275.50" width="3.6" height="4.50" fill="#026BD4"/><rect x="115.55" y="273.50" width="3.6" height="6.50" fill="#026BD4"/><rect x="119.59" y="272.30" width="3.6" height="7.70" fill="#026BD4"/><rect x="123.63" y="270.90" width="3.6" height="9.10" fill="#026BD4"/><rect x="127.67" y="269.80" width="3.6" height="10.20" fill="#026BD4"/><rect x="131.71" y="269.80" width="3.6" height="10.20" fill="#026BD4"/><rect x="22.63" y="315.40" width="3.6" height="0.60" fill="#026BD4"/><rect x="26.67" y="315.40" width="3.6" height="0.60" fill="#026BD4"/><rect x="30.71" y="315.40" width="3.6" height="0.60" fill="#026BD4"/><rect x="34.75" y="315.40" width="3.6" height="0.60" fill="#026BD4"/><rect x="38.79" y="315.40" width="3.6" height="0.60" fill="#026BD4"/><rect x="42.83" y="314.60" width="3.6" height="1.40" fill="#026BD4"/><rect x="46.87" y="314.60" width="3.6" height="1.40" fill="#026BD4"/><rect x="50.91" y="314.60" width="3.6" height="1.40" fill="#026BD4"/><rect x="54.95" y="314.00" width="3.6" height="2.00" fill="#026BD4"/><rect x="58.99" y="314.00" width="3.6" height="2.00" fill="#026BD4"/><rect x="63.03" y="314.00" width="3.6" height="2.00" fill="#026BD4"/><rect x="67.07" y="314.00" width="3.6" height="2.00" fill="#026BD4"/><rect x="71.11" y="313.20" width="3.6" height="2.80" fill="#026BD4"/><rect x="75.15" y="313.20" width="3.6" height="2.80" fill="#026BD4"/><rect x="79.19" y="312.10" width="3.6" height="3.90" fill="#026BD4"/><rect x="83.23" y="312.10" width="3.6" height="3.90" fill="#026BD4"/><rect x="87.27" y="311.50" width="3.6" height="4.50" fill="#026BD4"/><rect x="91.31" y="311.50" width="3.6" height="4.50" fill="#026BD4"/><rect x="95.35" y="310.50" width="3.6" height="5.50" fill="#026BD4"/><rect x="99.39" y="310.50" width="3.6" height="5.50" fill="#026BD4"/><rect x="103.43" y="309.50" width="3.6" height="6.50" fill="#026BD4"/><rect x="107.47" y="308.50" width="3.6" height="7.50" fill="#026BD4"/><rect x="111.51" y="308.50" width="3.6" height="7.50" fill="#026BD4"/><rect x="115.55" y="307.50" width="3.6" height="8.50" fill="#026BD4"/><rect x="119.59" y="306.40" width="3.6" height="9.60" fill="#026BD4"/><rect x="123.63" y="305.80" width="3.6" height="10.20" fill="#026BD4"/><rect x="127.67" y="305.00" width="3.6" height="11.00" fill="#026BD4"/><rect x="131.71" y="304.00" width="3.6" height="12.00" fill="#026BD4"/></svg><div class="b " style="left:1320px;top:729px;width:334px;height:350px;border:1px solid rgba(194,201,214,0.33);border-radius:8px;background:#fff;"></div><span class="t " style="top:750px;font-size:14px;line-height:14px;color:#0B0E14;letter-spacing:0.478px;-webkit-text-stroke:0.22px;left:1337px;">Product tree</span><div class="b " style="left:1353px;top:804px;width:1px;height:143px;background:rgba(194,201,214,0.33);"></div><div class="b " style="left:1362px;top:812px;width:269px;height:28px;background:rgba(194,201,214,.38);border-radius:8px;"></div><svg class="ic" style="left:1344.5px;top:781.8px" width="16" height="16" viewBox="-8 -8 16 16"><path d="M-4.1,-2.0 L0,2.1 L4.1,-2.0" fill="none" stroke="#0B0E14" stroke-width="1.9"/></svg><span class="t " style="top:783px;font-size:14px;line-height:14px;color:#0B0E14;letter-spacing:0.382px;left:1369px;">Website</span><div class="b " style="left:1370px;top:823.2px;width:6px;height:6px;background:#52BC52;border-radius:50%;"></div><span class="t " style="top:819px;font-size:14px;line-height:14px;color:#0B0E14;letter-spacing:0.285px;left:1384.2px;">Home</span><div class="b " style="left:1370px;top:859.2px;width:6px;height:6px;background:#52BC52;border-radius:50%;"></div><span class="t " style="top:855px;font-size:14px;line-height:14px;color:#0B0E14;letter-spacing:0.386px;left:1384.2px;">Pricing</span><div class="b " style="left:1370px;top:895.2px;width:6px;height:6px;background:#52BC52;border-radius:50%;"></div><span class="t " style="top:891px;font-size:14px;line-height:14px;color:#0B0E14;letter-spacing:0.404px;left:1384.2px;">About us</span><svg class="ic" style="left:1370px;top:926px" width="16" height="16" viewBox="-8 -8 16 16"><path d="M-2.0,-4.1 L2.1,0 L-2.0,4.1" fill="none" stroke="#0B0E14" stroke-width="1.9"/></svg><span class="t " style="top:927px;font-size:14px;line-height:14px;color:#0B0E14;letter-spacing:0.367px;left:1394px;">Blog</span><svg class="ic" style="left:1344.5px;top:962px" width="16" height="16" viewBox="-8 -8 16 16"><path d="M-2.0,-4.1 L2.1,0 L-2.0,4.1" fill="none" stroke="#0B0E14" stroke-width="1.9"/></svg><span class="t " style="top:963px;font-size:14px;line-height:14px;color:#0B0E14;letter-spacing:0.306px;left:1369px;">Store</span><div class="b " style="left:1344.7px;top:1003.2px;width:6px;height:6px;background:#027AF2;border-radius:50%;"></div><span class="t " style="top:999px;font-size:14px;line-height:14px;color:#0B0E14;letter-spacing:0.536px;left:1359.3px;">Contact</span><div class="b " style="left:1344.7px;top:1039.2px;width:6px;height:6px;background:#027AF2;border-radius:50%;"></div><span class="t " style="top:1035px;font-size:14px;line-height:14px;color:#0B0E14;letter-spacing:0.426px;left:1359.3px;">Help</span>
</div></body></html>
